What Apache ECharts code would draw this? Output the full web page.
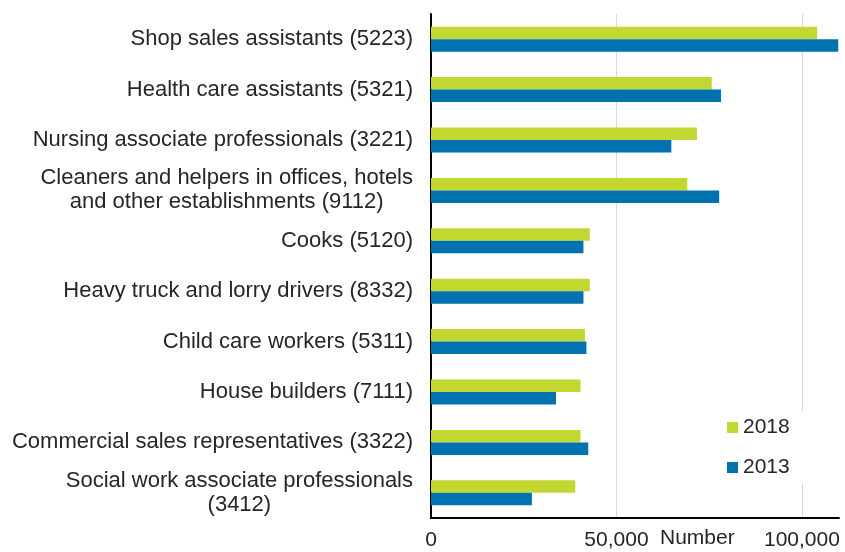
<!DOCTYPE html>
<html>
<head>
<meta charset="utf-8">
<script src="https://cdn.jsdelivr.net/npm/echarts@6/dist/echarts.min.js"></script>
<style>html,body{margin:0;padding:0;background:#fff}#c{width:845px;height:552px}</style>
</head>
<body>
<div id="c"></div>
<script>
var categories = [
  'Shop sales assistants (5223)',
  'Health care assistants (5321)',
  'Nursing associate professionals (3221)',
  'Cleaners and helpers in offices, hotels\nand other establishments (9112)',
  'Cooks (5120)',
  'Heavy truck and lorry drivers (8332)',
  'Child care workers (5311)',
  'House builders (7111)',
  'Commercial sales representatives (3322)',
  'Social work associate professionals\n(3412)'
];
var values2018 = [104100, 75700, 71700, 69100, 42800, 42800, 41500, 40300, 40300, 38900];
var values2013 = [109800, 78200, 64800, 77700, 41100, 41100, 41900, 33700, 42400, 27200];
var xTicks = [0, 50000, 100000];

var chart = echarts.init(document.getElementById('c'), null, {renderer: 'canvas'});
var font = 'Liberation Sans, Arial, sans-serif';
chart.setOption({
  animation: false,
  backgroundColor: '#ffffff',
  textStyle: {fontFamily: font},
  grid: {left: 431, right: 6, top: 14, bottom: 34, containLabel: false, outerBoundsMode: 'none'},
  legend: {
    orient: 'vertical',
    left: 721,
    top: 412,
    itemWidth: 11,
    itemHeight: 11,
    itemGap: 19,
    padding: [5, 14, 5, 6],
    backgroundColor: '#ffffff',
    icon: 'rect',
    textStyle: {fontSize: 21, color: '#262626', fontFamily: font},
    data: ['2018', '2013']
  },
  xAxis: {
    type: 'value',
    min: 0,
    max: 110000,
    interval: 50000,
    name: 'Number',
    nameLocation: 'middle',
    nameGap: 10,
    nameMoveOverlap: false,
    nameTextStyle: {fontSize: 21, color: '#262626', fontFamily: font, align: 'left', padding: [0, 0, 0, 25]},
    axisLine: {show: true, lineStyle: {color: '#000000', width: 2}},
    axisTick: {show: false},
    axisLabel: {
      fontSize: 21, color: '#262626', margin: 12, fontFamily: font,
      formatter: function (v) {
        if (xTicks.indexOf(v) < 0) return '';
        return v.toLocaleString('en-US');
      }
    },
    splitLine: {show: true, showMaxLine: false, lineStyle: {color: '#d9d9d9', width: 1}}
  },
  yAxis: {
    type: 'category',
    inverse: true,
    data: categories,
    axisLine: {show: true, lineStyle: {color: '#000000', width: 2}},
    axisTick: {show: false},
    axisLabel: {
      fontSize: 22, color: '#262626', margin: 18, lineHeight: 24, fontFamily: font, align: 'right',
      formatter: function (v) {
        return v.split('\n').map(function (s) { return '{c|' + s + '}'; }).join('\n');
      },
      rich: {c: {fontSize: 22, color: '#262626', lineHeight: 24, fontFamily: font, align: 'center'}}
    },
    splitLine: {show: false}
  },
  series: [
    {name: '2018', type: 'bar', data: values2018, barWidth: 12.5, barGap: '0%', itemStyle: {color: '#c2d730'}},
    {name: '2013', type: 'bar', data: values2013, barWidth: 12.5, barGap: '0%', itemStyle: {color: '#0072b0'}}
  ]
});
</script>
</body>
</html>
